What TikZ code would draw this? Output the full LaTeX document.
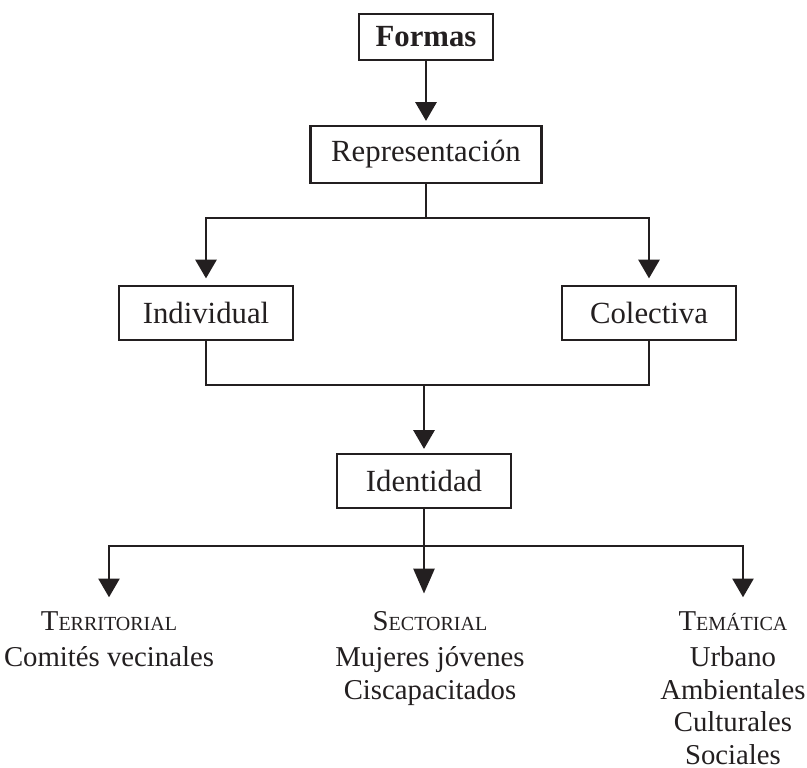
\documentclass[tikz,border=0pt]{standalone}
\usepackage{fontspec}
\setmainfont{Liberation Serif}
\usetikzlibrary{arrows.meta}

\definecolor{tinta}{RGB}{35,31,32}
\newcommand{\versalita}[2]{#1{\fontsize{8}{10}\selectfont #2}}

\tikzset{
  caja/.style={draw=tinta, line width=1.1pt, text=tinta, inner sep=0pt,
               font=\fontsize{12.3}{14}\selectfont,
               minimum width=69.6pt, minimum height=21.6pt},
  linea/.style={draw=tinta, line width=0.8pt},
  flecha/.style={linea, -{Triangle[width=8.5pt,length=7.5pt]}, shorten >=1.5pt},
  grupo/.style={text=tinta, align=center, anchor=north, inner sep=4pt,
                font=\fontsize{11.5}{13}\selectfont}
}

\begin{document}
\begin{tikzpicture}[x=0.4pt,y=-0.4pt]
            \useasboundingbox (0,0) rectangle (807,767);
            % cajas
            \node[caja, minimum width=53.6pt, minimum height=18.4pt,
                  font=\fontsize{12.3}{14}\selectfont\bfseries] (formas) at (426,37) {Formas};
            \node[caja, minimum width=92.4pt, minimum height=22.8pt] (repr) at (426,154.5) {Representación};
            \node[caja] (indiv) at (206,313) {Individual};
            \node[caja] (colec) at (649,313) {Colectiva};
            \node[caja] (ident) at (424,481) {Identidad};
            % grupos de abajo
            \node[grupo] (terr) at (109,601) {\versalita{T}{ERRITORIAL}\\[1.5pt]Comités vecinales};
            \node[grupo] (sect) at (430,601) {\versalita{S}{ECTORIAL}\\[1.5pt]Mujeres jóvenes\\Ciscapacitados};
            \node[grupo] (tema) at (733,601) {\versalita{T}{EMÁTICA}\\[1.5pt]Urbano\\Ambientales\\Culturales\\Sociales};
            % conectores
            \draw[flecha] (formas) -- (repr);
            \draw[linea] (repr.south) -- ++(0,34) coordinate (rsplit);
            \draw[flecha, shorten >=2.5pt] (rsplit) -| (indiv.north);
            \draw[flecha, shorten >=2.5pt] (rsplit) -| (colec.north);
            \coordinate (union) at (424,385);
            \draw[linea] (indiv.south) |- (union) -| (colec.south);
            \draw[flecha] (union) -- (ident.north);
            \draw[linea] (ident.south) -- ++(0,37) coordinate (isplit);
            \draw[flecha] (isplit) -| (terr.north);
            \draw[flecha, -{Triangle[width=8.5pt,length=10pt]}, shorten >=3pt]
                             (isplit) -- (isplit |- sect.north);
            \draw[flecha] (isplit) -| ([xshift=4pt]tema.north);
        \end{tikzpicture}
\end{document}
